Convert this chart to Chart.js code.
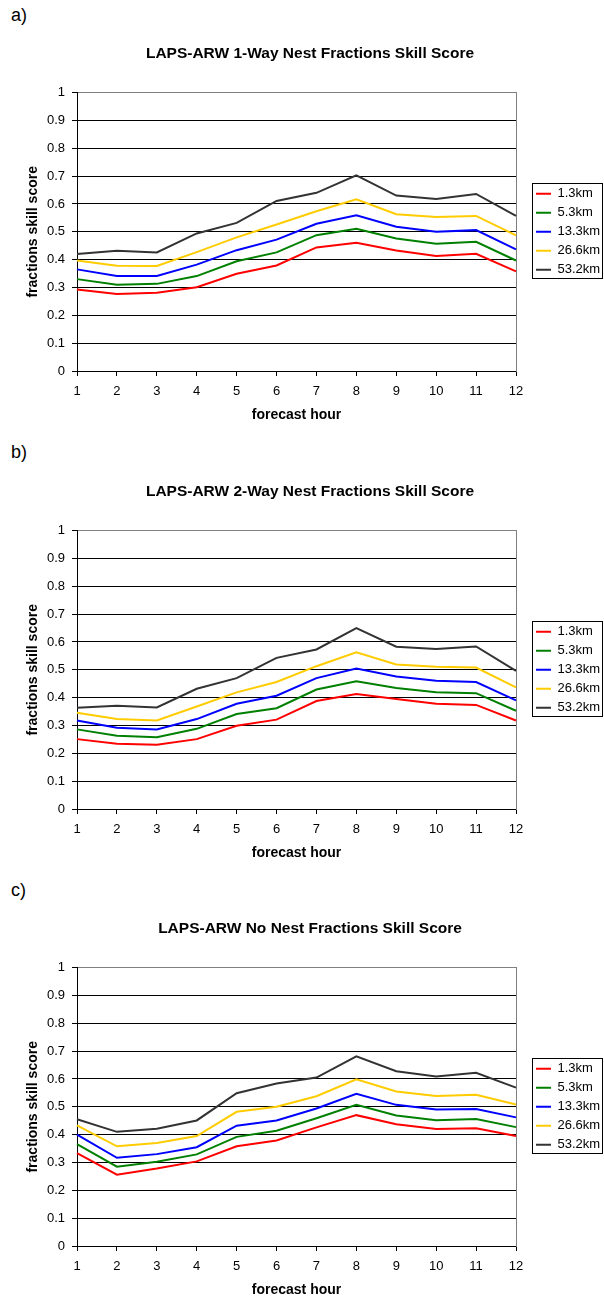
<!DOCTYPE html>
<html>
<head>
<meta charset="utf-8">
<script src="https://cdn.jsdelivr.net/npm/chart.js@4.4.1/dist/chart.umd.min.js"></script>
<style>
  html, body { margin: 0; padding: 0; background: #fff; overflow: hidden; }
  body { position: relative; width: 604px; height: 1297px; font-family: "Liberation Sans", Arial, sans-serif; }
  canvas { position: absolute; left: 0; }
  .pl { position: absolute; left: 11px; font-size: 18px; line-height: 18px; color: #000; }
</style>
</head>
<body>
<div class="pl" style="top:6px">a)</div>
<div class="pl" style="top:443px">b)</div>
<div class="pl" style="top:881px">c)</div>
<canvas id="c1" width="604" height="428" style="top:0px"></canvas>
<canvas id="c2" width="604" height="428" style="top:438px"></canvas>
<canvas id="c3" width="604" height="428" style="top:875px"></canvas>
<script>
// ---- data ----
const hours = ['1','2','3','4','5','6','7','8','9','10','11','12'];
const seriesLabels = ['1.3km','5.3km','13.3km','26.6km','53.2km'];
const seriesColors = ['#FF0000','#008000','#0000FF','#FFCC00','#333333'];
const yTickLabels = ['0','0.1','0.2','0.3','0.4','0.5','0.6','0.7','0.8','0.9','1'];
const titles = [
  'LAPS-ARW 1-Way Nest Fractions Skill Score',
  'LAPS-ARW 2-Way Nest Fractions Skill Score',
  'LAPS-ARW No Nest Fractions Skill Score'
];
const xTitle = 'forecast hour';
const yTitle = 'fractions skill score';

// a) 1-Way nest
const oneWay_1_3 = [0.293,0.277,0.281,0.301,0.349,0.379,0.444,0.461,0.433,0.413,0.421,0.358];
const oneWay_5_3 = [0.330,0.310,0.313,0.341,0.394,0.426,0.488,0.511,0.476,0.457,0.464,0.397];
const oneWay_13_3 = [0.365,0.341,0.341,0.382,0.434,0.472,0.529,0.559,0.518,0.500,0.506,0.437];
const oneWay_26_6 = [0.397,0.378,0.377,0.427,0.480,0.526,0.574,0.617,0.563,0.553,0.557,0.487];
const oneWay_53_2 = [0.420,0.432,0.426,0.494,0.532,0.611,0.640,0.703,0.630,0.618,0.636,0.557];

// b) 2-Way nest
const twoWay_1_3 = [0.251,0.234,0.231,0.251,0.299,0.321,0.388,0.413,0.395,0.378,0.374,0.318];
const twoWay_5_3 = [0.286,0.263,0.258,0.288,0.341,0.362,0.429,0.459,0.435,0.419,0.416,0.353];
const twoWay_13_3 = [0.318,0.292,0.286,0.323,0.378,0.407,0.470,0.505,0.476,0.461,0.456,0.390];
const twoWay_26_6 = [0.346,0.323,0.318,0.368,0.419,0.456,0.513,0.563,0.519,0.511,0.508,0.437];
const twoWay_53_2 = [0.364,0.371,0.365,0.432,0.470,0.543,0.573,0.650,0.583,0.575,0.584,0.496];

// c) No nest
const noNest_1_3 = [0.334,0.256,0.278,0.304,0.358,0.379,0.426,0.470,0.437,0.420,0.423,0.395];
const noNest_5_3 = [0.366,0.285,0.303,0.329,0.392,0.414,0.459,0.507,0.469,0.452,0.456,0.427];
const noNest_13_3 = [0.400,0.317,0.330,0.355,0.432,0.451,0.494,0.547,0.507,0.490,0.492,0.462];
const noNest_26_6 = [0.433,0.358,0.370,0.395,0.482,0.500,0.538,0.599,0.555,0.539,0.543,0.508];
const noNest_53_2 = [0.455,0.410,0.421,0.451,0.549,0.584,0.605,0.681,0.628,0.609,0.622,0.569];

// ---- chart setup ----
Chart.defaults.font.family = '"Liberation Sans", Arial, sans-serif';
Chart.defaults.color = '#000';

const legendBox = {
  id: 'legendBox',
  afterDraw(chart) {
    const hb = chart.legend && chart.legend.legendHitBoxes;
    if (!hb || !hb.length) return;
    const ctx = chart.ctx;
    const last = hb[hb.length - 1];
    const l = Math.round(hb[0].left - 4) + 0.5;
    const t = Math.round(hb[0].top - 4.5) + 0.5;
    const b = Math.round(last.top + last.height + 2) + 0.5;
    const r = chart.width - 1.5;
    ctx.save();
    ctx.strokeStyle = '#000';
    ctx.lineWidth = 1;
    ctx.strokeRect(l, t, r - l, b - t);
    ctx.restore();
  }
};

function makeChart(id, title, seriesList) {
  const datasets = seriesList.map((d, i) => ({
    label: seriesLabels[i],
    data: d,
    borderColor: seriesColors[i],
    backgroundColor: seriesColors[i],
    borderWidth: 2,
    pointRadius: 0,
    tension: 0,
    fill: false
  }));
  return new Chart(document.getElementById(id), {
    type: 'line',
    data: { labels: hours, datasets },
    plugins: [legendBox],
    options: {
      responsive: false,
      animation: false,
      layout: { padding: { left: 16, right: 0, top: 0, bottom: 0 } },
      plugins: {
        tooltip: { enabled: false },
        title: {
          display: true,
          text: title,
          font: { size: 15.5, weight: 'bold' },
          color: '#000',
          padding: { top: 44, bottom: 30 }
        },
        legend: {
          display: true,
          position: 'right',
          align: 'center',
          fullSize: false,
          maxWidth: 74,
          labels: {
            usePointStyle: true,
            pointStyle: 'line',
            pointStyleWidth: 15,
            padding: 6,
            font: { size: 13 },
            color: '#000'
          }
        }
      },
      scales: {
        x: {
          type: 'category',
          offset: false,
          grid: { offset: false, drawOnChartArea: false, tickLength: 5, tickColor: '#000' },
          border: { color: '#000', width: 1 },
          ticks: { font: { size: 13 }, color: '#000', padding: 8, maxRotation: 0, autoSkip: false },
          title: { display: true, text: xTitle, font: { size: 14, weight: 'bold' }, color: '#000', padding: { top: 7, bottom: 4 } },
          afterFit: s => { s.height = 57; }
        },
        y: {
          min: 0, max: 1,
          ticks: {
            stepSize: 0.1, font: { size: 13 }, color: '#000', padding: 7,
            callback: (v, i) => yTickLabels[i]
          },
          grid: {
            color: c => (c.tick && c.tick.value >= 0.999) ? '#808080' : '#000',
            tickColor: '#000', tickLength: 5, lineWidth: 1
          },
          border: { color: '#000', width: 1 },
          title: { display: true, text: yTitle, font: { size: 14, weight: 'bold' }, color: '#000', padding: { top: 8.6, bottom: 0 } },
          afterFit: s => { s.width = 61; }
        },
        y2: {
          position: 'right',
          min: 0, max: 1,
          grid: { drawOnChartArea: false, drawTicks: false },
          ticks: { display: false },
          border: { color: '#808080', width: 1 },
          afterFit: s => { s.width = 14; }
        }
      }
    }
  });
}

makeChart('c1', titles[0], [oneWay_1_3, oneWay_5_3, oneWay_13_3, oneWay_26_6, oneWay_53_2]);
makeChart('c2', titles[1], [twoWay_1_3, twoWay_5_3, twoWay_13_3, twoWay_26_6, twoWay_53_2]);
makeChart('c3', titles[2], [noNest_1_3, noNest_5_3, noNest_13_3, noNest_26_6, noNest_53_2]);
</script>
</body>
</html>
